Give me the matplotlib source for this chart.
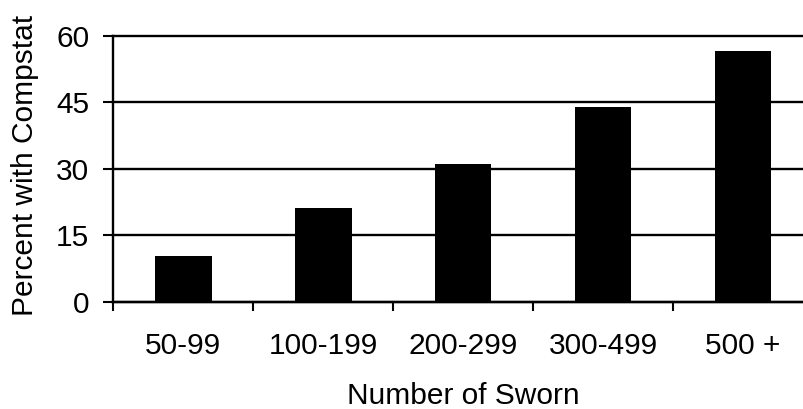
import numpy as np
import matplotlib.pyplot as plt

# --- DATA ---
categories = ['50-99', '100-199', '200-299', '300-499', '500 +']
percent = [10.3, 21.1, 31.1, 44.0, 56.7]
y_ticks = [0, 15, 30, 45, 60]

plt.rcParams['font.family'] = ['Liberation Sans', 'DejaVu Sans']

fig = plt.figure(figsize=(8.04, 4.09), dpi=100)
# axes run a bit past the right edge, like the original
ax = fig.add_axes([0.141, 0.2624, 0.870, 0.6496])

x = np.arange(len(categories))
ax.bar(x, percent, width=0.405, color='black', zorder=3)

ax.set_xlim(-0.5, len(categories) - 0.5)
ax.set_ylim(0, 60)
ax.set_yticks(y_ticks)
ax.yaxis.grid(True, color='black', linewidth=1.7, zorder=1)
ax.set_axisbelow(True)
# keep the top gridline full thickness
for gl in ax.get_ygridlines():
    gl.set_clip_on(False)

ax.set_xticks(x)
ax.set_xticklabels(categories)
ax.set_xticks(np.arange(len(categories) + 1) - 0.5, minor=True)
ax.tick_params(axis='x', which='major', length=0, pad=22, labelsize=21.5)
ax.tick_params(axis='x', which='minor', length=6.5, width=1.5, direction='out')
ax.tick_params(axis='y', length=7.2, width=1.5, direction='out', pad=10, labelsize=21.5)

for s in ['top', 'right']:
    ax.spines[s].set_visible(False)
for s in ['left', 'bottom']:
    ax.spines[s].set_linewidth(1.7)

ax.set_ylabel('Percent with Compstat', fontsize=21.5)
ax.yaxis.set_label_coords(-0.107, 0.514)
ax.set_xlabel('Number of Sworn', fontsize=21.5, labelpad=16)

fig.savefig('out.png', dpi=100)
